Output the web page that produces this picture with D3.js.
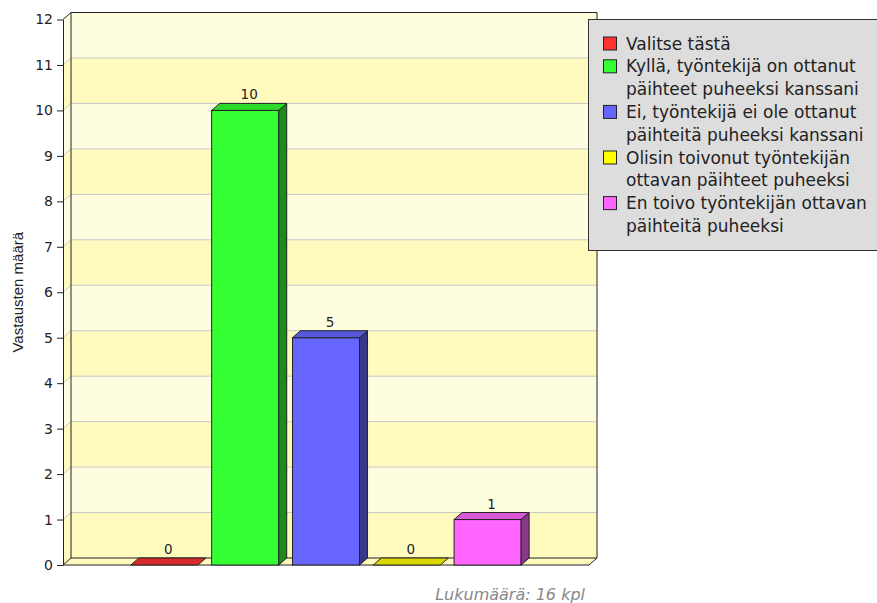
<!DOCTYPE html>
<html>
<head>
<meta charset="utf-8">
<script src="https://cdn.jsdelivr.net/npm/d3@7"></script>
<style>
  body { margin: 0; background: #fff; }
  svg { display: block; }
</style>
</head>
<body>
<svg id="chart" width="877" height="603"></svg>
<script>
// answers and counts
var categories = [
    "Valitse tästä",
    "Kyllä, työntekijä on ottanut päihteet puheeksi kanssani",
    "Ei, työntekijä ei ole ottanut päihteitä puheeksi kanssani",
    "Olisin toivonut työntekijän ottavan päihteet puheeksi",
    "En toivo työntekijän ottavan päihteitä puheeksi"
];
var counts = [0, 10, 5, 0, 1];
var colors = ["#ff3333", "#33ff33", "#6666ff", "#ffff00", "#ff66ff"];
var yTicks = [0, 1, 2, 3, 4, 5, 6, 7, 8, 9, 10, 11, 12];
var yTitle = "Vastausten määrä";
var footer = "Lukumäärä: 16 kpl";

var svg = d3.select("#chart");
var font = "DejaVu Sans, Verdana, sans-serif";

// note: "top" is taken by window.top, so plotTop etc.
var plotLeft = 63, plotRight = 589, plotTop = 19.5, plotBottom = 565;
var dx = 8, dy = 7;   // 3d depth

var xScale = d3.scaleBand()
    .domain(categories)
    .range([plotLeft, plotRight])
    .paddingInner(0.17)
    .paddingOuter(0.84);
var yScale = d3.scaleLinear()
    .domain([0, 12])
    .range([plotBottom, plotTop]);

// side wall + back wall bands
var bands = svg.append("g");
for (var i = 0; i < yTicks.length - 1; i++) {
    var y0 = yScale(yTicks[i]), y1 = yScale(yTicks[i + 1]);
    var fill = (i % 2 == 0) ? "#fffbbf" : "#fffddf";
    bands.append("rect")
        .attr("x", plotLeft + dx).attr("y", y1 - dy)
        .attr("width", plotRight - plotLeft).attr("height", y0 - y1)
        .attr("fill", fill);
    bands.append("path")
        .attr("d", "M" + plotLeft + "," + y0 + "L" + (plotLeft + dx) + "," + (y0 - dy) +
            "L" + (plotLeft + dx) + "," + (y1 - dy) + "L" + plotLeft + "," + y1 + "Z")
        .attr("fill", fill);
}
// floor
svg.append("path")
    .attr("d", "M" + plotLeft + "," + plotBottom + "L" + plotRight + "," + plotBottom +
        "L" + (plotRight + dx) + "," + (plotBottom - dy) + "L" + (plotLeft + dx) + "," + (plotBottom - dy) + "Z")
    .attr("fill", "#fffbbf")
    .attr("stroke", "#222");

// grid lines
yTicks.slice(1, -1).forEach(function (t) {
    var y = yScale(t);
    svg.append("path")
        .attr("d", "M" + plotLeft + "," + y + "L" + (plotLeft + dx) + "," + (y - dy) +
            "L" + (plotRight + dx) + "," + (y - dy))
        .attr("fill", "none")
        .attr("stroke", "#c8c8c8");
});

// wall outlines
svg.append("path")
    .attr("d", "M" + plotLeft + "," + plotTop + "L" + (plotLeft + dx) + "," + (plotTop - dy) +
        "L" + (plotRight + dx) + "," + (plotTop - dy) + "L" + (plotRight + dx) + "," + (plotBottom - dy) +
        "M" + (plotLeft + dx) + "," + (plotTop - dy) + "L" + (plotLeft + dx) + "," + (plotBottom - dy))
    .attr("fill", "none")
    .attr("stroke", "#222");

// y axis
var yAxis = d3.axisLeft(yScale)
    .tickValues(yTicks)
    .tickSize(6)
    .tickSizeOuter(0)
    .tickPadding(4)
    .tickFormat(d3.format("d"));
var ax = svg.append("g")
    .attr("transform", "translate(" + plotLeft + ",0)")
    .call(yAxis);
ax.selectAll("path, line").attr("stroke", "#222");
ax.selectAll("text")
    .attr("font-family", font)
    .attr("font-size", 14)
    .attr("fill", "#222");

svg.append("text")
    .attr("transform", "translate(23," + ((plotTop + plotBottom) / 2) + ") rotate(-90)")
    .attr("text-anchor", "middle")
    .attr("font-family", "Liberation Sans, Arial, sans-serif")
    .attr("font-size", 15)
    .attr("fill", "#222")
    .text(yTitle);

// bars
var bw = xScale.bandwidth();
categories.forEach(function (c, i) {
    var x0 = xScale(c), yv = yScale(counts[i]), yb = yScale(0);
    var col = d3.color(colors[i]);
    var g = svg.append("g").attr("stroke", "#222").attr("stroke-width", 1);
    if (counts[i] > 0) {
        g.append("rect")
            .attr("x", x0).attr("y", yv)
            .attr("width", bw).attr("height", yb - yv)
            .attr("fill", col.formatHex());
        g.append("path")
            .attr("d", "M" + (x0 + bw) + "," + yv + "L" + (x0 + bw + dx) + "," + (yv - dy) +
                "L" + (x0 + bw + dx) + "," + (yb - dy) + "L" + (x0 + bw) + "," + yb + "Z")
            .attr("fill", col.darker(1.7).formatHex());
    }
    g.append("path")
        .attr("d", "M" + x0 + "," + yv + "L" + (x0 + dx) + "," + (yv - dy) +
            "L" + (x0 + bw + dx) + "," + (yv - dy) + "L" + (x0 + bw) + "," + yv + "Z")
        .attr("fill", col.darker(0.45).formatHex());

    svg.append("text")
        .attr("x", x0 + bw / 2 + dx / 2)
        .attr("y", yv - dy - 4)
        .attr("text-anchor", "middle")
        .attr("font-family", font)
        .attr("font-size", 13.5)
        .attr("fill", "#222")
        .text(counts[i]);
});

// footer
svg.append("text")
    .attr("x", 585)
    .attr("y", 600)
    .attr("text-anchor", "end")
    .attr("font-family", font)
    .attr("font-style", "italic")
    .attr("font-size", 16)
    .attr("fill", "#888")
    .text(footer);

// legend
var legend = svg.append("g");
legend.append("rect")
    .attr("x", 588.5).attr("y", 19.5)
    .attr("width", 300).attr("height", 231)
    .attr("fill", "#dddddd")
    .attr("stroke", "#333");

var lineH = 22.8, line = 0, maxW = 248;
categories.forEach(function (c, i) {
    var cy = 43.5 + line * lineH;
    legend.append("rect")
        .attr("x", 603.5).attr("y", cy - 6.5)
        .attr("width", 13).attr("height", 13)
        .attr("fill", colors[i])
        .attr("stroke", "#222");
    // simple word wrap
    var words = c.split(" "), cur = "";
    var t = legend.append("text")
        .attr("font-family", font)
        .attr("font-size", 17)
        .attr("fill", "#222");
    var rows = [];
    words.forEach(function (w) {
        var test = cur ? cur + " " + w : w;
        t.text(test);
        if (t.node().getComputedTextLength() > maxW && cur) {
            rows.push(cur);
            cur = w;
        } else {
            cur = test;
        }
    });
    rows.push(cur);
    t.text(null);
    rows.forEach(function (r, k) {
        t.append("tspan")
            .attr("x", 626)
            .attr("y", cy + k * lineH + 6)
            .text(r);
    });
    line += rows.length;
});
</script>
</body>
</html>
